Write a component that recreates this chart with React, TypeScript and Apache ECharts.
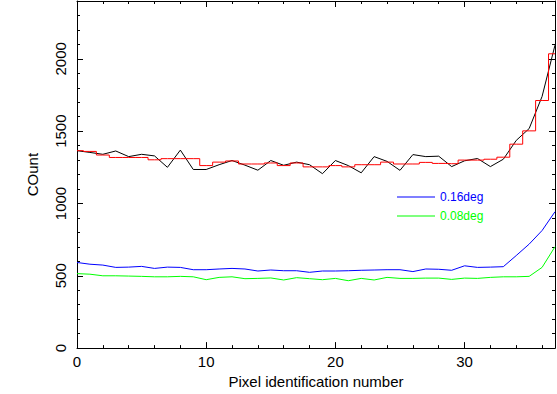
import React, { useEffect, useRef } from "react";
import * as echarts from "echarts";

const pixelIds = [0, 1, 2, 3, 4, 5, 6, 7, 8, 9, 10, 11, 12, 13, 14, 15, 16, 17, 18, 19, 20, 21, 22, 23, 24, 25, 26, 27, 28, 29, 30, 31, 32, 33, 34, 35, 36, 37];

const rawCounts = [1365, 1353, 1340, 1363, 1324, 1340, 1329, 1250, 1369, 1235, 1235, 1268, 1297, 1265, 1230, 1297, 1264, 1286, 1268, 1206, 1297, 1262, 1212, 1324, 1291, 1229, 1338, 1324, 1327, 1255, 1295, 1311, 1255, 1306, 1436, 1518, 1740, 2095];

const stepCounts = [1365, 1360, 1335, 1318, 1318, 1318, 1302, 1310, 1310, 1310, 1262, 1286, 1294, 1273, 1273, 1280, 1262, 1280, 1253, 1253, 1262, 1253, 1268, 1268, 1286, 1273, 1273, 1284, 1277, 1275, 1300, 1300, 1306, 1320, 1410, 1502, 1712, 2035];

const counts016 = [592, 580, 574, 558, 560, 565, 551, 560, 558, 542, 542, 547, 551, 547, 533, 540, 535, 535, 524, 533, 533, 535, 538, 540, 542, 542, 529, 547, 545, 538, 569, 558, 560, 563, 640, 719, 813, 943];

const counts008 = [515, 511, 500, 500, 498, 496, 493, 493, 496, 493, 473, 489, 493, 480, 482, 485, 471, 487, 480, 473, 482, 466, 482, 471, 489, 482, 482, 484, 484, 475, 484, 482, 489, 493, 493, 496, 558, 701];

const seriesNames = ["0.16deg", "0.08deg"];
const xTitle = "Pixel identification number";
const yTitle = "COunt";

const FONT = "'Liberation Sans', Arial, Helvetica, sans-serif";
const INK = "#000000";

const pairs = (ys: number[]) => pixelIds.map((x, i) => [x, ys[i]]);
const plain = (v: number) => String(v);

function xAxisDef(position: "top" | "bottom", interval: number, major: boolean, withLabels: boolean) {
  return {
    type: "value",
    position,
    min: 0,
    max: 37,
    interval,
    axisLine: { show: major, onZero: false, lineStyle: { color: INK, width: 1 } },
    axisTick: { show: true, inside: true, length: major ? 6 : 3, lineStyle: { color: INK, width: 1 } },
    axisLabel: {
      show: withLabels,
      color: INK,
      fontSize: 15,
      fontFamily: FONT,
      margin: 6,
      showMaxLabel: false,
      formatter: plain,
    },
    splitLine: { show: false },
    name: withLabels ? xTitle : "",
    nameLocation: "middle",
    nameGap: 24,
    nameTextStyle: { color: INK, fontSize: 15, fontFamily: FONT },
  };
}

function yAxisDef(position: "left" | "right", interval: number, major: boolean, withLabels: boolean) {
  return {
    type: "value",
    position,
    min: 0,
    max: 2400,
    interval,
    axisLine: { show: major, onZero: false, lineStyle: { color: INK, width: 1 } },
    axisTick: { show: true, inside: true, length: major ? 6 : 3, lineStyle: { color: INK, width: 1 } },
    axisLabel: {
      show: withLabels,
      color: INK,
      fontSize: 15,
      fontFamily: FONT,
      margin: 9,
      rotate: 90,
      showMaxLabel: false,
      formatter: plain,
    },
    splitLine: { show: false },
    name: withLabels ? yTitle : "",
    nameLocation: "middle",
    nameGap: 37,
    nameTextStyle: { color: INK, fontSize: 15, fontFamily: FONT },
  };
}

export default function App() {
  const ref = useRef<HTMLDivElement>(null);

  useEffect(() => {
    if (!ref.current) return;
    const chart = echarts.init(ref.current, null, { renderer: "svg" });
    chart.setOption({
      animation: false,
      backgroundColor: "#ffffff",
      textStyle: { fontFamily: FONT },
      grid: { left: 77, right: 2, top: 1, bottom: 37, containLabel: false },
      xAxis: [
        xAxisDef("bottom", 10, true, true),
        xAxisDef("bottom", 2, false, false),
        xAxisDef("top", 10, true, false),
        xAxisDef("top", 2, false, false),
      ],
      yAxis: [
        yAxisDef("left", 500, true, true),
        yAxisDef("left", 100, false, false),
        yAxisDef("right", 500, true, false),
        yAxisDef("right", 100, false, false),
      ],
      legend: {
        show: true,
        orient: "vertical",
        left: 397,
        top: 191,
        padding: 0,
        itemGap: 7,
        itemWidth: 38,
        itemHeight: 1,
        icon: "rect",
        selectedMode: false,
        textStyle: { fontSize: 12, fontFamily: FONT },
        data: [
          { name: seriesNames[0], textStyle: { color: "#0000ff" } },
          { name: seriesNames[1], textStyle: { color: "#00ff00" } },
        ],
      },
      series: [
        {
          name: "raw",
          type: "line",
          xAxisIndex: 0,
          yAxisIndex: 0,
          data: pairs(rawCounts),
          symbol: "none",
          lineStyle: { color: "#000000", width: 1 },
          itemStyle: { color: "#000000" },
        },
        {
          name: "binned",
          type: "line",
          step: "middle",
          xAxisIndex: 0,
          yAxisIndex: 0,
          data: pairs(stepCounts),
          symbol: "none",
          lineStyle: { color: "#ff0000", width: 1 },
          itemStyle: { color: "#ff0000" },
        },
        {
          name: seriesNames[0],
          type: "line",
          xAxisIndex: 0,
          yAxisIndex: 0,
          data: pairs(counts016),
          symbol: "none",
          lineStyle: { color: "#0000ff", width: 1 },
          itemStyle: { color: "#0000ff" },
        },
        {
          name: seriesNames[1],
          type: "line",
          xAxisIndex: 0,
          yAxisIndex: 0,
          data: pairs(counts008),
          symbol: "none",
          lineStyle: { color: "#00ff00", width: 1 },
          itemStyle: { color: "#00ff00" },
        },
      ],
    });
    return () => chart.dispose();
  }, []);

  return (
    <div
      ref={ref}
      style={{ position: "fixed", left: 0, top: 0, width: 557, height: 394, background: "#ffffff" }}
    />
  );
}
